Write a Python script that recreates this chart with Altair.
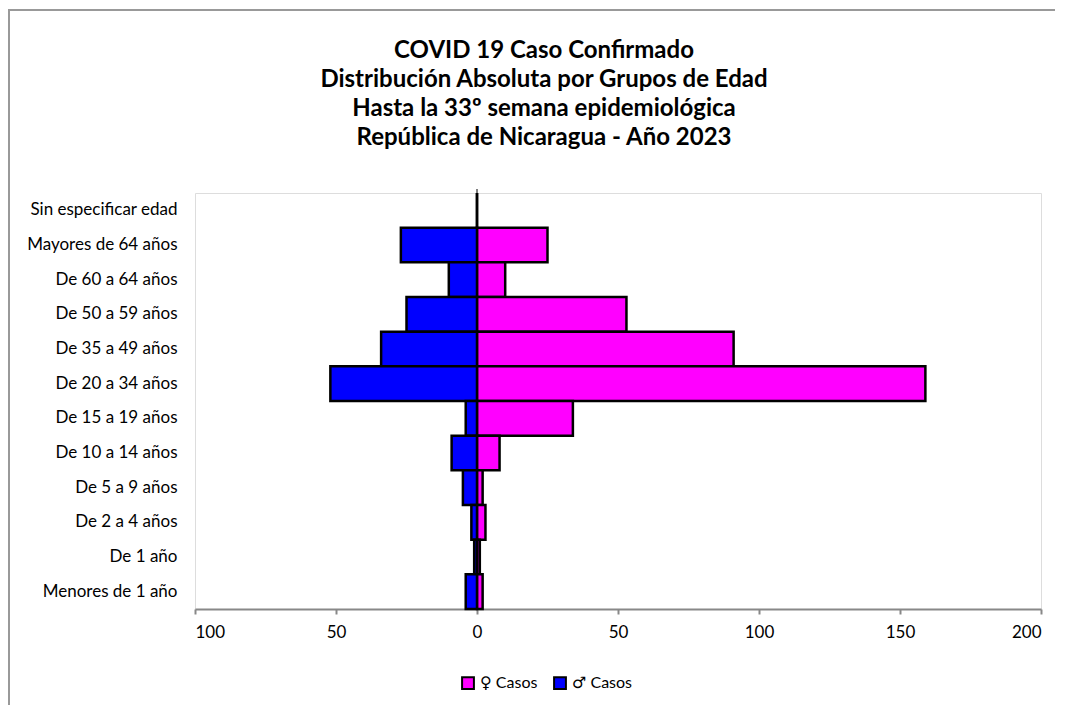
import altair as alt
import pandas as pd

groups = ["Sin especificar edad", "Mayores de 64 años", "De 60 a 64 años", "De 50 a 59 años",
          "De 35 a 49 años", "De 20 a 34 años", "De 15 a 19 años", "De 10 a 14 años",
          "De 5 a 9 años", "De 2 a 4 años", "De 1 año", "Menores de 1 año"]
female = [0, 25, 10, 53, 91, 159, 34, 8, 2, 3, 1, 2]
male = [0, 27, 10, 25, 34, 52, 4, 9, 5, 2, 1, 4]
series = ["♀ Casos", "♂ Casos"]
colors = ["#FF00FF", "#0000FF"]
ticks = [-100, -50, 0, 50, 100, 150, 200]

rows = []
for g, f, m in zip(groups, female, male):
    rows.append({"grupo": g, "serie": series[0], "v": f})
    rows.append({"grupo": g, "serie": series[1], "v": -m})
df = pd.DataFrame(rows)

FONT = "Lato, DejaVu Sans"

bars = alt.Chart(df).mark_bar(stroke="black", strokeWidth=2.5).encode(
    x=alt.X("v:Q", scale=alt.Scale(domain=[-100, 200], nice=False),
            axis=alt.Axis(values=ticks, labelExpr="abs(datum.value)", title=None, grid=False,
                          tickColor="#888888", domainColor="#888888", domainWidth=2, tickWidth=2,
                          tickSize=5, labelFontSize=17, labelColor="black", labelFont=FONT,
                          labelPadding=10)),
    y=alt.Y("grupo:N", sort=groups, scale=alt.Scale(paddingInner=0, paddingOuter=0),
            axis=alt.Axis(title=None, ticks=False, domain=False, labelFontSize=17,
                          labelColor="black", labelFont=FONT, labelPadding=18)),
    color=alt.Color("serie:N", scale=alt.Scale(domain=series, range=colors),
                    legend=alt.Legend(title=None, orient="none", legendX=265, legendY=482,
                                      direction="horizontal", symbolType="square",
                                      symbolSize=140, symbolStrokeColor="black",
                                      symbolStrokeWidth=2, labelFontSize=16, labelFont=FONT,
                                      labelColor="black", columnPadding=12, labelOffset=4)),
)

zero = alt.Chart(pd.DataFrame({"z": [0]})).mark_rule(color="black", strokeWidth=1).encode(
    x="z:Q", y=alt.value(-4), y2=alt.value(416))

frame = alt.Chart(pd.DataFrame({"z": [0]})).mark_rect(
    fill=None, stroke="#999999", strokeWidth=2).encode(
    x=alt.value(-186), x2=alt.value(900), y=alt.value(-183), y2=alt.value(600))

chart = alt.layer(frame, bars, zero).properties(
    width=846, height=416,
    autosize=alt.AutoSizeParams(type="none"),
    padding={"left": 187, "top": 185, "right": 14, "bottom": 96},
    title=alt.TitleParams(
        ["COVID 19 Caso Confirmado", "Distribución Absoluta por Grupos de Edad",
         "Hasta la 33º semana epidemiológica", "República de Nicaragua - Año 2023"],
        anchor="middle", frame="group", dx=-74, dy=177, offset=36, fontSize=24, font=FONT,
        fontWeight="bold", color="black", lineHeight=29),
).configure_view(stroke="#888888", strokeWidth=2).configure(background="white")

chart.save("out.html", embed_options={"renderer": "svg", "actions": False})
